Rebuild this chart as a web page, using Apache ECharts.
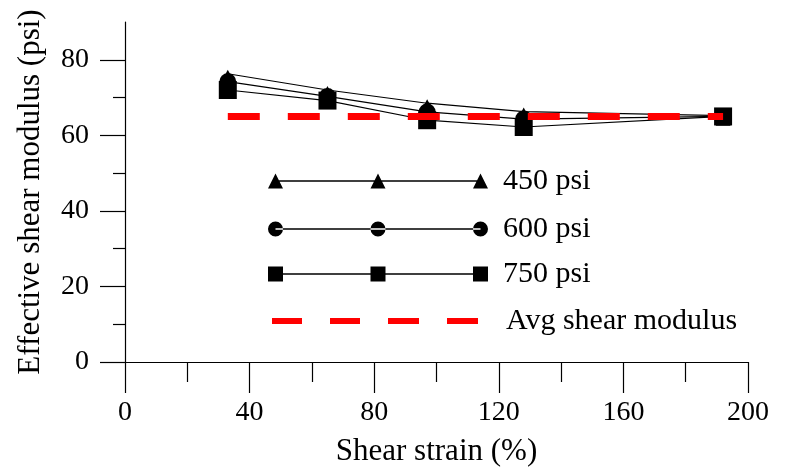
<!DOCTYPE html>
<html>
<head>
<meta charset="utf-8">
<script src="https://cdn.jsdelivr.net/npm/echarts@6/dist/echarts.min.js"></script>
<style>html,body{margin:0;padding:0;background:#fff}#c{width:788px;height:472px}</style>
</head>
<body>
<div id="c"></div>
<script>
// Data
var shearStrain = [33, 65, 97, 128, 192];
var modulus450 = [76.3, 72.0, 68.5, 66.3, 65.2];
var modulus600 = [74.2, 70.3, 66.2, 64.3, 65.0];
var modulus750 = [72.0, 69.2, 64.0, 62.2, 65.0];
var avgModulus = 65;
var avgRange = [33, 192];
var seriesNames = ['450 psi', '600 psi', '750 psi', 'Avg shear modulus'];
var yMajorTicks = [0, 20, 40, 60, 80];
var yMinorTicks = [10, 30, 50, 70];

function pairs(xs, ys) { return xs.map(function (x, i) { return [x, ys[i]]; }); }

var FONT = 'Liberation Serif';
var chart = echarts.init(document.getElementById('c'), null, {renderer: 'canvas'});

var triIcon = 'path://M7.5,6.8L212.5,6.8L212.5,8.2L7.5,8.2Z M0,15L7.5,0L15,15Z M102.5,15L110,0L117.5,15Z M205,15L212.5,0L220,15Z';
var cirIcon = 'path://M7.5,6.8L212.5,6.8L212.5,8.2L7.5,8.2Z M0,7.5A7.5,7.5 0 1,0 15,7.5A7.5,7.5 0 1,0 0,7.5Z M102.5,7.5A7.5,7.5 0 1,0 117.5,7.5A7.5,7.5 0 1,0 102.5,7.5Z M205,7.5A7.5,7.5 0 1,0 220,7.5A7.5,7.5 0 1,0 205,7.5Z';
var sqIcon = 'path://M7.5,6.8L212.5,6.8L212.5,8.2L7.5,8.2Z M0,0L15,0L15,15L0,15Z M102.5,0L117.5,0L117.5,15L102.5,15Z M205,0L220,0L220,15L205,15Z';
var dashIcon = 'path://M0,0L30,0L30,6L0,6Z M58,0L88,0L88,6L58,6Z M116,0L147,0L147,6L116,6Z M175,0L206,0L206,6L175,6Z';

function legendFor(name, icon, left, top, w, h, padLeft) {
  return {
    data: [{name: name, icon: icon}],
    left: left, top: top, padding: 0,
    itemWidth: w, itemHeight: h,
    selectedMode: false,
    textStyle: {fontFamily: FONT, fontSize: 30, color: '#000', padding: [0, 0, 0, padLeft]}
  };
}

var option = {
  backgroundColor: '#fff',
  animation: false,
  grid: {left: 125, right: 40, top: 22, bottom: 108},
  legend: [
    legendFor(seriesNames[0], triIcon, 268, 166, 220, 15, 10),
    legendFor(seriesNames[1], cirIcon, 268, 214, 220, 15, 10),
    legendFor(seriesNames[2], sqIcon, 268, 259, 220, 15, 10),
    legendFor(seriesNames[3], dashIcon, 272, 306, 206, 6, 23)
  ],
  xAxis: {
    type: 'value', min: 0, max: 200, interval: 40,
    name: 'Shear strain (%)', nameLocation: 'middle', nameGap: 74,
    nameTextStyle: {fontFamily: FONT, fontSize: 31, color: '#000'},
    axisLine: {show: true, lineStyle: {color: '#000', width: 1.2}},
    axisTick: {show: true, inside: false, length: 31, lineStyle: {color: '#000', width: 1.2}},
    minorTick: {show: true, splitNumber: 2, length: 20, lineStyle: {color: '#000', width: 1.2}},
    splitLine: {show: false},
    axisLabel: {fontFamily: FONT, fontSize: 28, color: '#000', margin: 37}
  },
  yAxis: [{
    type: 'value', min: 0, max: 90,
    name: 'Effective shear modulus (psi)', nameLocation: 'middle', nameGap: 79, nameRotate: 90,
    nameTextStyle: {fontFamily: FONT, fontSize: 31, color: '#000'},
    axisLine: {show: true, lineStyle: {color: '#000', width: 1.2}},
    axisTick: {show: true, inside: false, length: 25, customValues: yMajorTicks, lineStyle: {color: '#000', width: 1.2}},
    splitLine: {show: false},
    axisLabel: {fontFamily: FONT, fontSize: 28, color: '#000', margin: 36, customValues: yMajorTicks}
  }, {
    type: 'value', min: 0, max: 90, position: 'left',
    axisLine: {show: false},
    axisTick: {show: true, inside: false, length: 12, customValues: yMinorTicks, lineStyle: {color: '#000', width: 1.2}},
    splitLine: {show: false},
    axisLabel: {show: false}
  }],
  series: [{
    name: seriesNames[0], type: 'line', data: pairs(shearStrain, modulus450),
    color: '#000', symbol: 'triangle', symbolSize: [15, 14], symbolOffset: [0, 3],
    lineStyle: {color: '#000', width: 1.2}, itemStyle: {color: '#000'}, z: 2
  }, {
    name: seriesNames[1], type: 'line', data: pairs(shearStrain, modulus600),
    color: '#000', symbol: 'circle', symbolSize: 17,
    lineStyle: {color: '#000', width: 1.2}, itemStyle: {color: '#000'}, z: 3
  }, {
    name: seriesNames[2], type: 'line', data: pairs(shearStrain, modulus750),
    color: '#000', symbol: 'rect', symbolSize: 18,
    lineStyle: {color: '#000', width: 1.2}, itemStyle: {color: '#000'}, z: 4
  }, {
    name: seriesNames[3], type: 'line',
    data: [[avgRange[0], avgModulus], [avgRange[1], avgModulus]],
    color: '#ff0000', symbol: 'none',
    lineStyle: {color: '#ff0000', width: 7, type: [32, 28]}, itemStyle: {color: '#ff0000'}, z: 5
  }]
};
chart.setOption(option);
</script>
</body>
</html>
